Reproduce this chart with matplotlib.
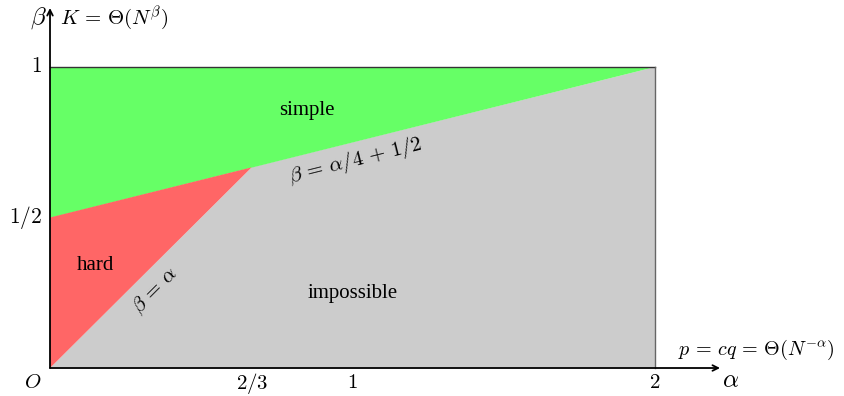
import matplotlib
matplotlib.use('Agg')
import matplotlib.pyplot as plt
from matplotlib.patches import Polygon

plt.rcParams['mathtext.fontset'] = 'cm'
plt.rcParams['font.family'] = ['Liberation Serif', 'DejaVu Serif']

# Region corners (alpha, beta)
simple_pts = [(0, 0.5), (0, 1), (2, 1)]
hard_pts = [(0, 0), (0, 0.5), (2/3, 2/3)]
impossible_pts = [(0, 0), (2/3, 2/3), (2, 1), (2, 0)]

x_ticks = [2/3, 1, 2]
x_labels = ['$2/3$', '$1$', '$2$']
y_ticks = [0.5, 1]
y_labels = ['$1/2$', '$1$']

fig = plt.figure(figsize=(8.44, 3.96), dpi=100)
ax = fig.add_axes([0, 0, 1, 1])
ax.set_xlim(-0.1653, 2.6248)
ax.set_ylim(-0.093, 1.2226)
ax.axis('off')

ax.add_patch(Polygon(impossible_pts, closed=True, facecolor='#cccccc', edgecolor='none'))
ax.add_patch(Polygon(simple_pts, closed=True, facecolor='#66ff66', edgecolor='none'))
ax.add_patch(Polygon(hard_pts, closed=True, facecolor='#ff6666', edgecolor='none'))

# frame lines
ax.plot([0, 2], [1, 1], color='#333333', lw=1)
ax.plot([2, 2], [0, 1], color='#666666', lw=1)

# axes arrows
ax.annotate('', xy=(2.215, 0), xytext=(0, 0),
            arrowprops=dict(arrowstyle='->', color='black', lw=1.3, shrinkA=0, shrinkB=0))
ax.annotate('', xy=(0, 1.196), xytext=(0, 0),
            arrowprops=dict(arrowstyle='->', color='black', lw=1.3, shrinkA=0, shrinkB=0))

for t, lab in zip(x_ticks, x_labels):
    ax.text(t, -0.05, lab, ha='center', va='center', fontsize=15)
for t, lab in zip(y_ticks, y_labels):
    ax.text(-0.027, t, lab, ha='right', va='center', fontsize=15.5)
ax.text(-0.058, -0.05, '$O$', ha='center', va='center', fontsize=15)

ax.text(-0.04, 1.163, r'$\beta$', ha='center', va='center', fontsize=18)
ax.text(0.033, 1.163, r'$K\,=\,\Theta(N^{\beta})$', ha='left', va='center', fontsize=15)
ax.text(2.076, 0.06, r'$p\,=\,cq\,=\,\Theta(N^{-\alpha})$', ha='left', va='center', fontsize=14.5)
ax.text(2.248, -0.045, r'$\alpha$', ha='center', va='center', fontsize=18)

ax.text(0.85, 0.854, 'simple', ha='center', va='center', fontsize=15)
ax.text(0.152, 0.342, 'hard', ha='center', va='center', fontsize=15)
ax.text(1.0, 0.249, 'impossible', ha='center', va='center', fontsize=15)

ax.text(1.01, 0.69, r'$\beta\,=\,\alpha/4\,+\,1/2$', ha='center', va='center', fontsize=15, rotation=14)
ax.text(0.347, 0.256, r'$\beta\,=\,\alpha$', ha='center', va='center', fontsize=15, rotation=45)

fig.savefig('out.png', dpi=100)
